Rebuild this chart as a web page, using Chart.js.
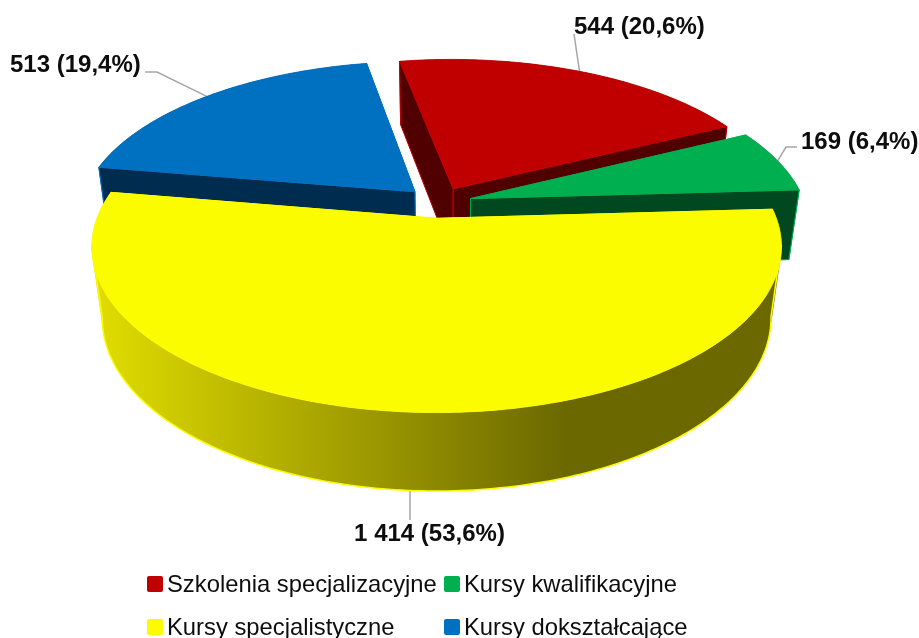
<!DOCTYPE html>
<html lang="pl"><head><meta charset="utf-8">
<style>html,body{margin:0;padding:0;background:#fff;overflow:hidden}canvas{display:block}</style>
<script src="https://cdn.jsdelivr.net/npm/chart.js@4"></script>
</head><body><canvas id="c" width="919" height="638"></canvas>
<script>
const categories = ['Szkolenia specjalizacyjne','Kursy kwalifikacyjne','Kursy specjalistyczne','Kursy dokształcające'];
const values = [544,169,1414,513];
const valueLabels = ['544 (20,6%)','169 (6,4%)','1 414 (53,6%)','513 (19,4%)'];
const topColors = ['#C00000','#00B050','#FCFC00','#0070C0'];
const wallColors = ['#500000','#004820','#6B6800','#002C50'];
const drawOrder = [3,0,1,2];

// perspective camera of the flattened 3D pie
const cam = {ox:438.5, oy:202.5, rx:334, ry:155.5, p:0.169, q:0.03, d:72.5};
function project(u,v,h){
  const s = 1/(1 - cam.p*v + cam.q*h);
  return [cam.ox + cam.rx*u*s, cam.oy + (cam.ry*v + cam.d*h)*s];
}
// label anchors and elbows of the leader lines
const labelLayout = [
  {x:574,y:27,align:'left', path:[[574,34]], h:0},
  {x:801,y:142,align:'left', path:[[786,147],[797,147]], h:0},
  {x:429.5,y:534,align:'center', path:[[410,486],[410,520]], h:0.9},
  {x:10,y:65,align:'left', path:[[157,72],[145,72]], h:0}
];
const legendLayout = {xs:[147,444], ys:[584,627], textDy:1.5, box:16, gap:4};

function sliceGeom(arc){
  const a = arc.getProps(['x','y','startAngle','endAngle','outerRadius']);
  const e = arc.options.offset/a.outerRadius;
  const mid = (a.startAngle+a.endAngle)/2;
  return {a0:a.startAngle, a1:a.endAngle, cx:Math.cos(mid)*e, cy:Math.sin(mid)*e, mid};
}
function poly(ctx,pts,fill,stroke,lw){
  ctx.beginPath();
  pts.forEach((p,i)=> i?ctx.lineTo(p[0],p[1]):ctx.moveTo(p[0],p[1]));
  ctx.closePath();
  ctx.fillStyle=fill; ctx.fill();
  if(stroke){ctx.strokeStyle=stroke;ctx.lineWidth=lw||1;ctx.lineJoin='round';ctx.stroke();}
}
function arcPts(g,h){
  const pts=[], n=Math.ceil((g.a1-g.a0)*60);
  for(let i=0;i<=n;i++){const t=g.a0+(g.a1-g.a0)*i/n;
    pts.push(project(g.cx+Math.cos(t),g.cy+Math.sin(t),h));}
  return pts;
}
function signedArea(q){
  let s=0; q.forEach((p,i)=>{const r=q[(i+1)%q.length]; s+=p[0]*r[1]-r[0]*p[1];});
  return s;
}
// outer wall: union of equally oriented strips, so the silhouette is filled
function drawOuterWall(ctx,t,b,wall,edge,lw){
  ctx.beginPath();
  for(let k=0;k<t.length-1;k++){
    let q=[t[k],t[k+1],b[k+1],b[k]];
    if(signedArea(q)<0) q=q.reverse();
    q.forEach((p,j)=> j?ctx.lineTo(p[0],p[1]):ctx.moveTo(p[0],p[1]));
    ctx.closePath();
  }
  ctx.fillStyle=wall; ctx.fill('nonzero');
  let lo=0,hi=0;
  b.forEach((p,k)=>{ if(p[0]<b[lo][0]) lo=k; if(p[0]>b[hi][0]) hi=k; });
  const a=Math.min(lo,hi), z=Math.max(lo,hi);
  ctx.beginPath();
  ctx.moveTo(t[a][0],t[a][1]);
  for(let k=a;k<=z;k++) ctx.lineTo(b[k][0],b[k][1]);
  ctx.lineTo(t[z][0],t[z][1]);
  ctx.strokeStyle=edge;ctx.lineWidth=lw;ctx.lineJoin='round';ctx.stroke();
}
const pie3d = {
  id:'pie3d',
  beforeDatasetsDraw(chart){
    const ctx=chart.ctx, arcs=chart.getDatasetMeta(0).data;
    ctx.save();
    // leader lines lie under the pie
    valueLabels.forEach((txt,i)=>{
      const g=sliceGeom(arcs[i]), L=labelLayout[i];
      const start=project(g.cx+Math.cos(g.mid),g.cy+Math.sin(g.mid),L.h);
      ctx.beginPath();ctx.moveTo(start[0],start[1]);
      L.path.forEach(p=>ctx.lineTo(p[0],p[1]));
      ctx.strokeStyle='#A6A6A6';ctx.lineWidth=1.5;ctx.stroke();
    });
    drawOrder.forEach(i=>{
      const g=sliceGeom(arcs[i]);
      const top=arcs[i].options.backgroundColor, dark=wallColors[i];
      const c0=project(g.cx,g.cy,0), c1=project(g.cx,g.cy,1);
      const t=arcPts(g,0), b=arcPts(g,1);
      let wall=dark;
      if(i===2){
        wall=ctx.createLinearGradient(90,0,780,0);
        wall.addColorStop(0,'#E2DE00');
        wall.addColorStop(0.69,'#6B6800');
        wall.addColorStop(1,'#6B6800');
      }
      const faces=[
        {v:g.cy+Math.sin(g.mid), draw(){drawOuterWall(ctx,t,b,wall,top,i===2?1.5:1);}},
        {v:g.cy+Math.sin(g.a0)/2, draw(){poly(ctx,[c0,t[0],b[0],c1],dark,top);}},
        {v:g.cy+Math.sin(g.a1)/2, draw(){poly(ctx,[c0,t[t.length-1],b[b.length-1],c1],dark,top);}}
      ];
      faces.sort((x,y)=>x.v-y.v).forEach(f=>f.draw());
      poly(ctx,[c0].concat(t),top,top,0.8);
    });
    ctx.restore();
    return false;
  },
  afterDraw(chart){
    const ctx=chart.ctx;
    ctx.save();
    ctx.font='bold 24px "Liberation Sans",Arial,sans-serif';
    ctx.textBaseline='middle';
    valueLabels.forEach((txt,i)=>{
      const L=labelLayout[i];
      ctx.fillStyle='#0D0D0D';ctx.textAlign=L.align;
      ctx.fillText(txt,L.x,L.y);
    });
    // legend in a two-column grid
    ctx.font='23.8px "Liberation Sans",Arial,sans-serif';
    ctx.textAlign='left';
    categories.forEach((name,i)=>{
      const lx=legendLayout.xs[i%2], ly=legendLayout.ys[i>>1];
      ctx.beginPath();ctx.roundRect(lx,ly-8,legendLayout.box,legendLayout.box,2);
      ctx.fillStyle=topColors[i];ctx.fill();
      ctx.fillStyle='#0D0D0D';
      ctx.fillText(name,lx+legendLayout.box+legendLayout.gap,ly+legendLayout.textDy);
    });
    ctx.restore();
  }
};
new Chart(document.getElementById('c'),{
  type:'pie',
  data:{labels:categories,datasets:[{data:values,backgroundColor:topColors,borderWidth:0,offset:30.4}]},
  options:{responsive:false,animation:false,rotation:-10.5,
    layout:{padding:0},
    plugins:{legend:{display:false},tooltip:{enabled:false}}},
  plugins:[pie3d]
});
</script></body></html>
